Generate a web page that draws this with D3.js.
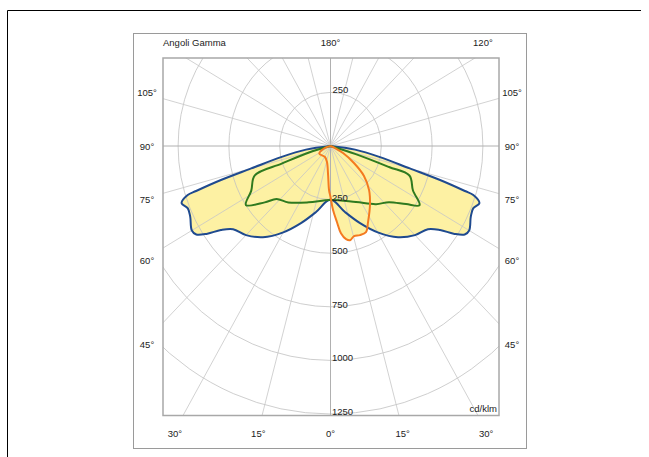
<!DOCTYPE html>
<html>
<head>
<meta charset="utf-8">
<title>Angoli Gamma</title>
<script src="https://cdn.jsdelivr.net/npm/d3@7"></script>
<style>
    html, body { margin: 0; padding: 0; background: #fff; }
    text { font-family: "Liberation Sans", Arial, sans-serif; font-size: 9.5px; fill: #222; }
</style>
</head>
<body>
<div id="graph"></div>
<script>
    // rings (cd/klm) and angle labels
    var ringValues = [250, 500, 750, 1000, 1250];
    var bottomAngles = [-30, -15, 0, 15, 30];
    var sideAngles = [45, 60, 75, 90, 105];
    var topAngles = [180, 120];

    // signed gamma: negative = left half plane, positive = right half plane
    var blueGamma = [-90, -82, -78, -75, -73.6, -72.4, -72, -70, -67.5, -64.5, -60, -58, -56, -54, -51, -45, -38, -30, -22, -13,
                     0, 13, 22, 30, 38, 45, 51, 54, 56, 58, 60, 64.5, 67.5, 70, 72, 72.4, 73.6, 75, 78, 82, 90];
    var blueI = [0, 122, 249, 404, 562, 694, 739, 780, 760, 765, 788, 779, 731, 667, 617, 588, 540, 465, 388, 316,
                 250, 316, 388, 465, 540, 588, 617, 667, 731, 779, 788, 765, 760, 780, 739, 694, 562, 404, 249, 122, 0];

    var greenGamma = [-90, -74, -71.1, -69.8, -61.9, -56.5, -50.9, -47, -38.2, -22.3,
                      0, 25.6, 39.6, 47.7, 53.9, 57.8, 62.9, 70.5, 71.2, 73, 90];
    var greenI = [0, 110, 254, 397, 442, 499, 417, 363, 335, 284,
                  252, 290, 352, 389, 460, 518, 456, 412, 304, 130, 0];

    var orangeGamma = [-90, -72, -57, -28, -13, -5, -2, 0, 2.4, 5.1, 7.2, 10, 12.3, 15.4, 19.2, 23.5, 27.5, 35.2, 42.7, 49.7, 55.5, 62, 67, 90];
    var orangeI = [0, 28, 66, 58, 77, 136, 206, 238, 299, 356, 410, 441, 450, 436, 440, 438, 400, 337, 280, 216, 140, 70, 24, 0];

    var width = 649, height = 457;
    var cx = 330.5, cy = 146;
    var plot = {x0: 163, y0: 58, x1: 499, y1: 415.5};

    var rX = d3.scaleLinear().domain([0, 1250]).range([0, 254]);
    var rY = d3.scaleLinear().domain([0, 1250]).range([0, 268]);
    var ang = d3.scaleLinear().domain([0, 180]).range([0, Math.PI]);

    function px(g, v) { return cx + rX(v) * Math.sin(ang(g)); }
    function py(g, v) { return cy + rY(v) * Math.cos(ang(g)); }

    var svg = d3.select("#graph").append("svg")
        .attr("width", width)
        .attr("height", height);

    // outer frame
    svg.append("path")
        .attr("d", "M7.5," + height + "V10.5H641")
        .attr("fill", "none")
        .attr("stroke", "#000")
        .attr("stroke-width", 1);

    // grey box
    svg.append("rect")
        .attr("x", 133.5).attr("y", 33.5)
        .attr("width", 393).attr("height", 415)
        .attr("fill", "none")
        .attr("stroke", "#9a9a9a");

    svg.append("clipPath").attr("id", "plotclip")
        .append("rect")
        .attr("x", plot.x0).attr("y", plot.y0)
        .attr("width", plot.x1 - plot.x0).attr("height", plot.y1 - plot.y0);

    var g = svg.append("g").attr("clip-path", "url(#plotclip)");

    var line = d3.line()
        .x(function(d) { return px(d[0], d[1]); })
        .y(function(d) { return py(d[0], d[1]); })
        .curve(d3.curveCatmullRom.alpha(0.5));

    var curves = [
        {gamma: blueGamma, vals: blueI, color: "#1f4a8f"},
        {gamma: greenGamma, vals: greenI, color: "#2f7a1f"},
        {gamma: orangeGamma, vals: orangeI, color: "#f47a20"}
    ];
    curves.forEach(function(c) {
        c.pts = c.gamma.map(function(d, i) { return [d, c.vals[i]]; });
    });

    // yellow fills
    g.selectAll("path.fill")
        .data(curves)
        .enter().append("path")
        .attr("class", "fill")
        .attr("d", function(c) { return line(c.pts) + "Z"; })
        .attr("fill", "#fdf1a3")
        .attr("stroke", "none");

    // rings
    g.selectAll("ellipse.ring")
        .data(ringValues)
        .enter().append("ellipse")
        .attr("class", "ring")
        .attr("cx", cx).attr("cy", cy)
        .attr("rx", function(d) { return rX(d); })
        .attr("ry", function(d) { return rY(d); })
        .attr("fill", "none")
        .attr("stroke", "#c2c2c2")
        .attr("stroke-width", 0.8);

    // radial lines every 15 degrees
    var spokes = d3.range(0, 360, 15);
    g.selectAll("line.spoke")
        .data(spokes)
        .enter().append("line")
        .attr("class", "spoke")
        .attr("x1", cx).attr("y1", cy)
        .attr("x2", function(d) { return px(d, 2000); })
        .attr("y2", function(d) { return py(d, 2000); })
        .attr("stroke", function(d) { return d % 90 === 0 ? "#b0b0b0" : "#c6c6c6"; })
        .attr("stroke-width", function(d) { return d % 90 === 0 ? 1 : 0.8; });

    // curve outlines
    g.selectAll("path.curve")
        .data(curves)
        .enter().append("path")
        .attr("class", "curve")
        .attr("d", function(c) { return line(c.pts); })
        .attr("fill", "none")
        .attr("stroke", function(c) { return c.color; })
        .attr("stroke-width", 2)
        .attr("stroke-linejoin", "round");

    // plot border
    svg.append("rect")
        .attr("x", plot.x0).attr("y", plot.y0)
        .attr("width", plot.x1 - plot.x0).attr("height", plot.y1 - plot.y0)
        .attr("fill", "none")
        .attr("stroke", "#a8a8a8")
        .attr("stroke-width", 1.5);

    // ring labels
    svg.selectAll("text.ringlab")
        .data(ringValues)
        .enter().append("text")
        .attr("class", "ringlab")
        .attr("x", cx + 1.5)
        .attr("y", function(d) { return py(0, d) + 1; })
        .text(function(d) { return d; });

    svg.append("text")
        .attr("x", cx + 2)
        .attr("y", py(180, 250) + 1)
        .text(ringValues[0]);

    svg.append("text")
        .attr("x", plot.x1 - 2)
        .attr("y", plot.y1 - 4)
        .attr("text-anchor", "end")
        .text("cd/klm");

    // angle labels
    svg.selectAll("text.bot")
        .data(bottomAngles)
        .enter().append("text")
        .attr("class", "bot")
        .attr("x", function(d) { return cx + (plot.y1 - cy) * Math.tan(ang(d)); })
        .attr("y", 437)
        .attr("text-anchor", "middle")
        .text(function(d) { return Math.abs(d) + "°"; });

    var sideDist = 198;
    [147, 512].forEach(function(x) {
        svg.selectAll(null)
            .data(sideAngles)
            .enter().append("text")
            .attr("x", x)
            .attr("y", function(d) { return cy + sideDist / Math.tan(ang(d)) + 3.5; })
            .attr("text-anchor", "middle")
            .text(function(d) { return d + "°"; });
    });

    svg.selectAll("text.top")
        .data(topAngles)
        .enter().append("text")
        .attr("class", "top")
        .attr("x", function(d) { return cx + (cy - plot.y0) * Math.tan(ang(180 - d)); })
        .attr("y", 45.5)
        .attr("text-anchor", "middle")
        .text(function(d) { return d + "°"; });

    svg.append("text")
        .attr("x", plot.x0)
        .attr("y", 45.5)
        .text("Angoli Gamma");
</script>
</body>
</html>
